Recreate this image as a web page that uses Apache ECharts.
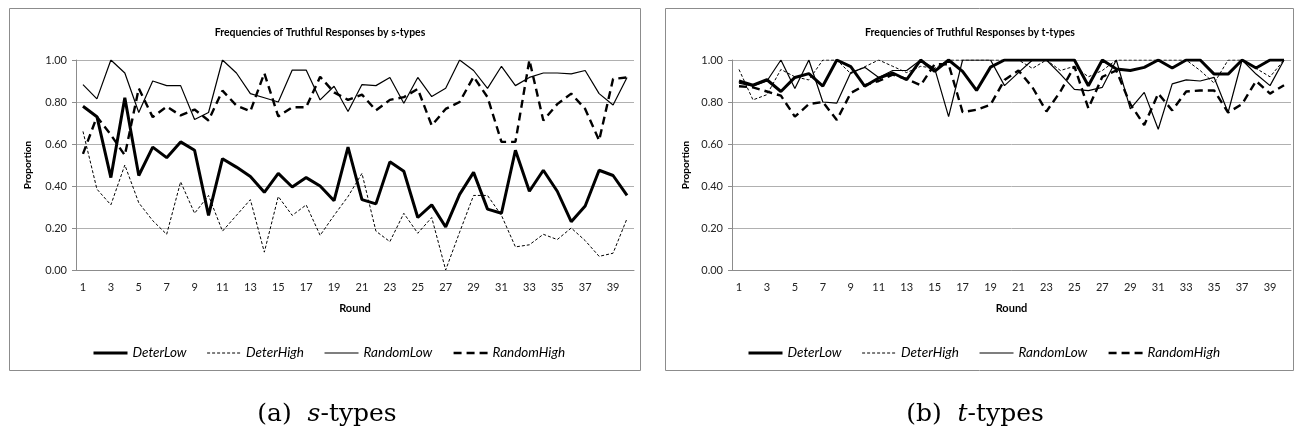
<!DOCTYPE html>
<html><head><meta charset="utf-8">
<script src="https://cdn.jsdelivr.net/npm/echarts@6/dist/echarts.min.js"></script>
<style>html,body{margin:0;padding:0;background:#fff}#c{width:1296px;height:434px}</style>
</head><body><div id="c"></div><script>
const rounds = ['1','2','3','4','5','6','7','8','9','10','11','12','13','14','15','16','17','18','19','20',
  '21','22','23','24','25','26','27','28','29','30','31','32','33','34','35','36','37','38','39','40'];
const seriesNames = ['DeterLow','DeterHigh','RandomLow','RandomHigh'];
const titleS = 'Frequencies of Truthful Responses by s-types';
const titleT = 'Frequencies of Truthful Responses by t-types';

// s-types
const deterLowS = [0.78,0.73,0.44,0.82,0.45,0.585,0.535,0.61,0.57,0.26,0.53,0.49,0.445,0.37,0.46,0.395,0.44,0.40,0.33,0.585,
  0.335,0.315,0.515,0.47,0.25,0.31,0.205,0.36,0.465,0.29,0.27,0.57,0.375,0.475,0.375,0.23,0.305,0.475,0.45,0.355];
const deterHighS = [0.66,0.385,0.31,0.50,0.32,0.235,0.17,0.42,0.27,0.355,0.185,0.26,0.335,0.085,0.35,0.26,0.31,0.165,0.26,0.35,
  0.46,0.185,0.135,0.27,0.175,0.25,0.0,0.18,0.355,0.355,0.26,0.11,0.12,0.17,0.145,0.20,0.14,0.065,0.08,0.245];
const randomLowS = [0.883,0.815,1.0,0.938,0.75,0.90,0.878,0.878,0.717,0.75,1.0,0.938,0.84,0.82,0.80,0.952,0.952,0.81,0.875,0.755,
  0.883,0.878,0.917,0.794,0.917,0.826,0.865,1.0,0.95,0.865,0.97,0.878,0.917,0.938,0.938,0.934,0.95,0.84,0.786,0.917];
const randomHighS = [0.553,0.73,0.644,0.546,0.865,0.728,0.778,0.736,0.764,0.712,0.854,0.783,0.756,0.937,0.731,0.775,0.775,0.92,0.846,0.81,
  0.835,0.76,0.81,0.823,0.862,0.688,0.767,0.80,0.92,0.823,0.61,0.61,1.0,0.712,0.79,0.84,0.767,0.617,0.91,0.917];

// t-types
const deterLowT = [0.90,0.88,0.906,0.85,0.917,0.935,0.876,1.0,0.968,0.875,0.914,0.938,0.906,1.0,0.946,1.0,0.946,0.855,0.966,1.0,
  1.0,1.0,1.0,1.0,1.0,0.877,1.0,0.957,0.95,0.965,1.0,0.962,1.0,1.0,0.933,0.933,1.0,0.962,1.0,1.0];
const deterHighT = [0.955,0.81,0.835,0.955,0.92,0.905,1.0,1.0,0.935,0.968,1.0,0.97,0.94,0.97,0.96,1.0,1.0,1.0,1.0,1.0,
  1.0,0.96,1.0,0.95,0.97,0.92,0.95,1.0,1.0,1.0,1.0,1.0,1.0,0.95,0.89,1.0,1.0,0.96,0.92,1.0];
const randomLowT = [0.89,0.875,0.90,1.0,0.864,1.0,0.80,0.795,0.94,0.965,0.917,0.95,0.95,1.0,0.96,0.73,1.0,1.0,1.0,0.878,
  0.94,1.0,1.0,0.933,0.86,0.854,0.87,1.0,0.767,0.846,0.67,0.886,0.905,0.90,0.917,0.75,1.0,0.933,0.878,1.0];
const randomHighT = [0.875,0.87,0.85,0.83,0.73,0.79,0.80,0.714,0.843,0.88,0.90,0.93,0.91,0.88,0.98,0.98,0.752,0.763,0.787,0.905,
  0.95,0.87,0.755,0.85,0.97,0.77,0.92,0.95,0.79,0.69,0.84,0.76,0.85,0.855,0.855,0.75,0.79,0.90,0.84,0.88];

const FONT = 'Lato, "Open Sans", sans-serif';
const styles = {
  DeterLow:   {color:'#000', width:3, type:'solid'},
  DeterHigh:  {color:'#000', width:1, type:[3,2]},
  RandomLow:  {color:'#000', width:1.2, type:'solid'},
  RandomHigh: {color:'#000', width:2.4, type:[8,5]}
};
function mk(name, data, idx) {
  return {name, type:'line', data, xAxisIndex:idx, yAxisIndex:idx, symbol:'none', showSymbol:false,
    lineStyle: styles[name], itemStyle:{color:'#000'}, z: name==='DeterLow'?3:2};
}
function xAx(gi) {
  return {type:'category', gridIndex:gi, data:rounds, boundaryGap:true,
    name:'Round', nameLocation:'middle', nameGap:33,
    nameTextStyle:{fontFamily:FONT, fontSize:11, fontWeight:'bold', color:'#000'},
    axisLine:{lineStyle:{color:'#8c8c8c'}}, axisTick:{show:false},
    axisLabel:{interval:1, fontFamily:FONT, fontSize:11, color:'#222', margin:12}};
}
function yAx(gi, gap) {
  return {type:'value', gridIndex:gi, min:0, max:1, interval:0.2,
    name:'Proportion', nameLocation:'middle', nameGap:gap, nameRotate:90,
    nameTextStyle:{fontFamily:FONT, fontSize:10, fontWeight:'bold', color:'#000'},
    axisLine:{show:true, lineStyle:{color:'#8c8c8c'}},
    axisTick:{show:true, length:4, lineStyle:{color:'#8c8c8c'}},
    splitLine:{lineStyle:{color:'#b0b0b0'}},
    axisLabel:{formatter:v=>v.toFixed(2), fontFamily:FONT, fontSize:11, color:'#222', margin:9}};
}
function legend(left) {
  return {left, top:341, itemWidth:34, itemHeight:14, itemGap:20,
    data: seriesNames.map(n => ({name:n, lineStyle:{width:styles[n].width, type:styles[n].type, color:'#000'}})),
    itemStyle:{opacity:0, borderWidth:0},
    textStyle:{fontFamily:FONT, fontSize:13.5, fontStyle:'italic', color:'#000'}};
}
const chart = echarts.init(document.getElementById('c'));
chart.setOption({
  animation:false,
  backgroundColor:'#fff',
  grid:[{left:76, top:60, width:558, height:210},{left:732, top:60, width:559, height:210}],
  xAxis:[xAx(0), xAx(1)],
  yAxis:[yAx(0,43), yAx(1,41)],
  legend:[legend(87), legend(742)],
  series:[
    mk('DeterLow', deterLowS, 0), mk('DeterHigh', deterHighS, 0), mk('RandomLow', randomLowS, 0), mk('RandomHigh', randomHighS, 0),
    mk('DeterLow', deterLowT, 1), mk('DeterHigh', deterHighT, 1), mk('RandomLow', randomLowT, 1), mk('RandomHigh', randomHighT, 1)
  ],
  graphic:[
    {type:'rect', shape:{x:9.5, y:8.5, width:631, height:362}, style:{fill:'none', stroke:'#8c8c8c', lineWidth:1}, silent:true},
    {type:'rect', shape:{x:665.5, y:8.5, width:628, height:362}, style:{fill:'none', stroke:'#8c8c8c', lineWidth:1}, silent:true},
    {type:'text', x:320, y:33, style:{text:titleS, font:'bold 10.5px '+FONT, fill:'#000', textAlign:'center', textVerticalAlign:'middle'}},
    {type:'text', x:970, y:33, style:{text:titleT, font:'bold 10.5px '+FONT, fill:'#000', textAlign:'center', textVerticalAlign:'middle'}},
    {type:'text', x:327, y:414, style:{text:'{n|(a)  }{i|s}{n|-types}', textAlign:'center', textVerticalAlign:'middle',
      rich:{n:{fontFamily:'"DejaVu Serif", serif', fontSize:25, fill:'#000'}, i:{fontFamily:'"DejaVu Serif", serif', fontSize:25, fontStyle:'italic', fill:'#000'}}}},
    {type:'text', x:975, y:414, style:{text:'{n|(b)  }{i|t}{n|-types}', textAlign:'center', textVerticalAlign:'middle',
      rich:{n:{fontFamily:'"DejaVu Serif", serif', fontSize:25, fill:'#000'}, i:{fontFamily:'"DejaVu Serif", serif', fontSize:25, fontStyle:'italic', fill:'#000'}}}}
  ]
});
</script></body></html>
